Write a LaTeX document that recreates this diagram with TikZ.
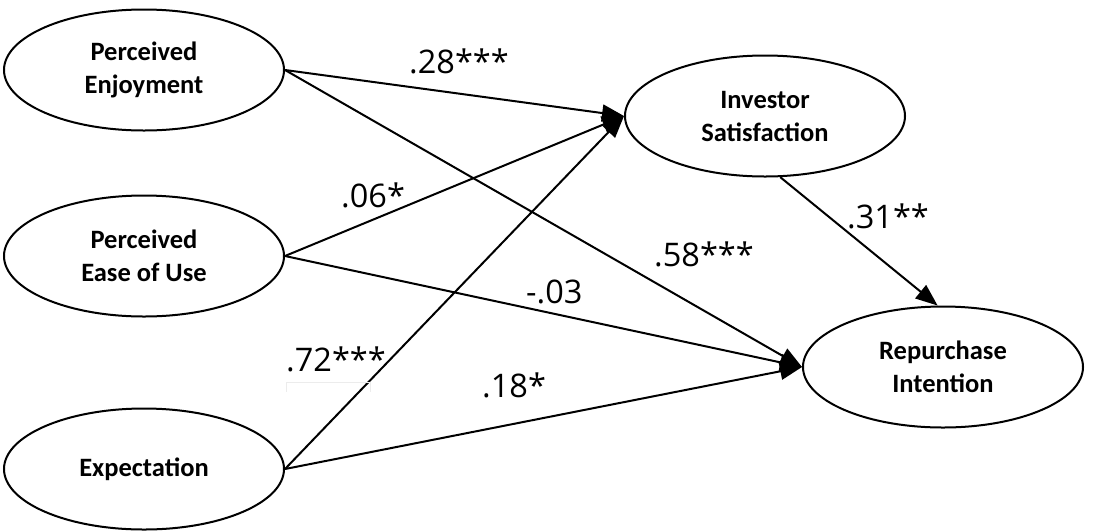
\documentclass[tikz,border=0pt]{standalone}
\usepackage{fontspec}
\setmainfont{Carlito}
\newfontfamily\coeffont{Open Sans}
\usetikzlibrary{shapes.geometric,arrows.meta}
\begin{document}
\begin{tikzpicture}[x=1pt,y=-1pt,
  latent/.style={ellipse,draw=black,line width=2pt,minimum width=280pt,minimum height=121pt,inner sep=0pt,align=center,font=\fontsize{26.5}{33}\selectfont\bfseries},
  path/.style={line width=2pt,-{Triangle[length=22pt,width=17pt]}},
  coef/.style={inner sep=0pt,anchor=base west,font=\coeffont\fontsize{32.5}{36}\selectfont}]
\useasboundingbox (0,0) rectangle (1102,531);
\node[latent] (pe) at (144,70) {Perceived\\Enjoyment};
\node[latent] (peou) at (144,256) {Perceived\\Ease of Use};
\node[latent] (ex) at (144,469) {Expectation};
\node[latent] (is) at (765,116) {Investor\\Satisfaction};
\node[latent] (ri) at (943,367) {Repurchase\\Intention};
\draw[path] (pe.east) -- (is.west);
\draw[path] (pe.east) -- (ri.west);
\draw[path] (peou.east) -- (is.west);
\draw[path] (peou.east) -- (ri.west);
\draw[path] (ex.east) -- (is.west);
\draw[path] (ex.east) -- (ri.west);
\draw[path] (is.-76) -- (ri.95);
\node[coef] (l1) at (409,73) {.28***};
\node[coef] (l2) at (341,207) {.06*};
\node[coef] (l3) at (654,266) {.58***};
\node[coef] (l4) at (526,303) {-.03};
\node[coef] (l5) at (286,371) {.72***};
\node[coef] (l6) at (482,397) {.18*};
\node[coef] (l7) at (847,228) {.31**};
\draw[gray!15,line width=0.6pt] (286,392) -- (286,382) -- (370,382) -- (370,392);
\end{tikzpicture}
\end{document}
